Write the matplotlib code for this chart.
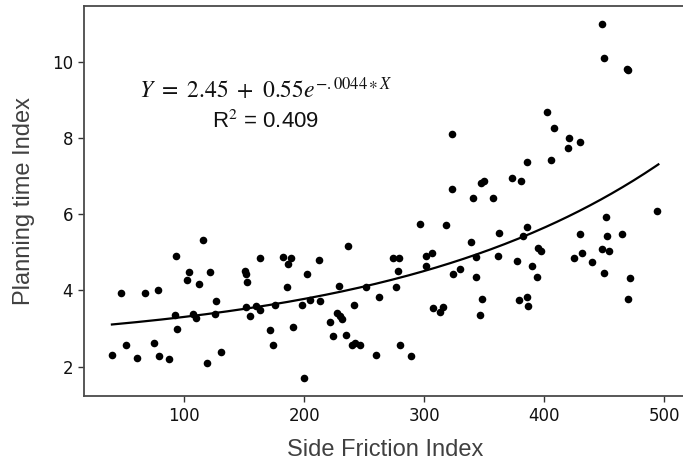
import numpy as np
import matplotlib
matplotlib.use("Agg")
import matplotlib.pyplot as plt

# Scatter data
side_friction = [
    39.8, 47.8, 51.4, 61.1, 67.8, 75.0, 78.4, 78.9, 87.5, 93.1, 92.5, 93.9,
    102.5, 104.2, 107.5, 109.7, 112.2, 115.8, 119.4, 121.6, 126.4, 125.8, 131.1,
    151.0, 151.4, 152.7, 151.4, 155.2, 159.9, 163.3, 163.3, 171.4, 174.4, 175.8,
    182.7, 186.3, 189.1, 186.0, 190.5, 199.9, 198.3, 202.4, 204.9, 212.2, 213.5,
    221.3, 223.8, 228.8, 227.6, 229.9, 231.6, 235.1, 236.8, 239.9, 241.8, 242.6,
    246.3, 251.5, 259.6, 262.6, 274.3, 279.3, 278.2, 276.8, 279.9, 289.0, 296.8,
    301.7, 301.7, 306.7, 307.1, 313.2, 315.9, 318.1, 323.7, 330.0, 340.6, 339.2,
    343.1, 343.1,
    357.5, 348.4, 346.5, 362.5, 361.7, 377.5, 378.9, 382.5, 385.6, 385.6, 386.7,
    390.0, 393.9, 395.0, 397.3, 425.0, 429.5, 431.1, 439.5, 448.3, 449.7, 451.4,
    452.0, 454.1, 464.7, 469.7, 471.1, 494.1,
    447.8, 450.1, 468.5, 469.8, 402.5, 407.8, 420.6, 419.7, 429.7, 385.9, 405.3,
    373.4, 380.9, 347.0, 349.8, 322.9, 323.1,
]
planning_time = [
    2.30, 3.93, 2.56, 2.22, 3.94, 2.61, 4.01, 2.28, 2.21, 4.91, 3.35, 3.00,
    4.26, 4.48, 3.38, 3.27, 4.17, 5.31, 2.10, 4.48, 3.73, 3.38, 2.38,
    4.50, 4.42, 4.22, 3.56, 3.34, 3.58, 4.85, 3.49, 2.95, 2.56, 3.62,
    4.88, 4.70, 4.86, 4.10, 3.05, 1.69, 3.61, 4.44, 3.74, 4.81, 3.71,
    3.18, 2.80, 4.12, 3.40, 3.33, 3.26, 2.84, 5.16, 2.56, 3.61, 2.61,
    2.56, 4.08, 2.31, 3.82, 4.84, 4.84, 4.52, 4.09, 2.56, 2.27, 5.73,
    4.89, 4.63, 4.98, 3.53, 3.44, 3.56, 5.71, 4.43, 4.56, 6.42, 5.27,
    4.88, 4.34,
    6.43, 3.77, 3.35, 5.50, 4.91, 4.76, 3.75, 5.42, 5.65, 3.82, 3.58,
    4.64, 4.34, 5.10, 5.03, 4.84, 5.49, 4.99, 4.74, 5.09, 4.45, 5.93,
    5.42, 5.04, 5.48, 3.78, 4.32, 6.08,
    11.00, 10.09, 9.80, 9.77, 8.69, 8.25, 8.00, 7.74, 7.89, 7.38, 7.42,
    6.95, 6.87, 6.81, 6.87, 8.10, 6.67,
]

# Fitted model parameters as shown on the chart
fit_a = 2.45
fit_b = 0.55
fit_k = 0.0044
fit_x_range = [40, 495]
x_ticks = [100, 200, 300, 400, 500]
y_ticks = [2, 4, 6, 8, 10]

W, H = 683, 468
fig = plt.figure(figsize=(W / 100, H / 100), dpi=100)
left_px, right_px, top_px, bottom_px = 84.3, 686, 6, 396
ax = fig.add_axes([left_px / W, 1 - bottom_px / H,
                   (right_px - left_px) / W, (bottom_px - top_px) / H])

ax.scatter(side_friction, planning_time, s=30, color="black", zorder=3,
           linewidths=0)

xf = np.linspace(fit_x_range[0], fit_x_range[1], 200)
yf = fit_a + fit_b * np.exp(fit_k * xf)
ax.plot(xf, yf, color="black", lw=1.6, zorder=2)

ax.set_xlim(17, 518)
ax.set_ylim(1.23, 11.46)
ax.set_xticks(x_ticks)
ax.set_yticks(y_ticks)

for side in ["left", "bottom", "top", "right"]:
    ax.spines[side].set_color("#4a4a4a")
    ax.spines[side].set_linewidth(1.3)

ax.tick_params(axis="both", direction="out", length=4, width=1,
               color="#333333", labelsize=12, labelcolor="#111111", pad=4)
for lab in ax.get_xticklabels() + ax.get_yticklabels():
    lab.set_family("DejaVu Sans")

ax.set_xlabel("Side Friction Index", fontsize=17, family="Liberation Sans",
              color="#404040", labelpad=10)
ax.set_ylabel("Planning time Index", fontsize=17, family="Liberation Sans",
              color="#404040", labelpad=12)

plt.rcParams["mathtext.fontset"] = "stix"
ax.text(168.3, 9.26, r"$Y\ =\ 2.45\ +\ 0.55e^{-.0044\ast X}$", fontsize=17,
        ha="center", va="center", color="#111111")
ax.text(168.3, 8.42, r"R$^2$ = 0.409", fontsize=16, family="Liberation Sans",
        ha="center", va="center", color="#111111")

fig.savefig("out.png", dpi=100)
